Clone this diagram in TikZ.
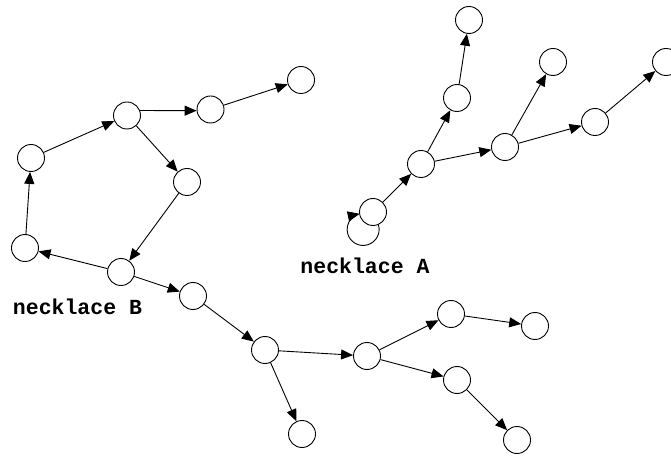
\documentclass[tikz,border=0pt]{standalone}
\usepackage{fontspec}
\newfontfamily\labelfont{Liberation Mono}
\usetikzlibrary{arrows.meta}
\begin{document}
\begin{tikzpicture}[x=1pt,y=1pt,
  vtx/.style={circle,draw,line width=0.9pt,minimum size=27pt,inner sep=0pt},
  arr/.style={line width=0.9pt,-{Triangle[length=12pt,width=10pt]}},
  lbl/.style={font=\labelfont\bfseries\fontsize{21.5}{24}\selectfont,anchor=base}]
\useasboundingbox (0,0) rectangle (671,455);
% necklace B
\node[vtx] (n1) at (127,339.5) {};
\node[vtx] (n2) at (210.5,345.5) {};
\node[vtx] (n3) at (301,375) {};
\node[vtx] (n4) at (31,297) {};
\node[vtx] (n5) at (187,273) {};
\node[vtx] (n6) at (25,207) {};
\node[vtx] (n7) at (121,183) {};
\node[vtx] (n8) at (193,159) {};
\node[vtx] (n9) at (265,105) {};
\node[vtx] (n10) at (367,99) {};
\node[vtx] (n11) at (451,141) {};
\node[vtx] (n12) at (535,129) {};
\node[vtx] (n13) at (457,75) {};
\node[vtx] (n14) at (517,15) {};
\node[vtx] (n15) at (302,21) {};
% necklace A
\node[vtx] (a1) at (469,435) {};
\node[vtx] (a2) at (457,357) {};
\node[vtx] (a3) at (553,393) {};
\node[vtx] (a4) at (666,393) {};
\node[vtx] (a5) at (595,333) {};
\node[vtx] (a6) at (505,308) {};
\node[vtx] (a7) at (421,291) {};
\node[vtx] (a8) at (373,243) {};
% labels
\node[lbl] (la) at (365,181) {necklace A};
\node[lbl] (lb) at (77.5,140) {necklace B};
% edges B
\draw[arr] (n6) -- (n4);
\draw[arr] (n4) -- (n1);
\draw[arr] (n1.21) -- (n2.185);
\draw[arr] (n2) -- (n3);
\draw[arr] (n1) -- (n5);
\draw[arr] (n5) -- (n7);
\draw[arr] (n7) -- (n6);
\draw[arr] (n7) -- (n8);
\draw[arr] (n8) -- (n9);
\draw[arr] (n9) -- (n10);
\draw[arr] (n9) -- (n15);
\draw[arr] (n10) -- (n11);
\draw[arr] (n11) -- (n12);
\draw[arr] (n10) -- (n13);
\draw[arr] (n13) -- (n14);
% edges A
\draw[arr] (a8) -- (a7);
\draw[arr] (a7) -- (a2);
\draw[arr] (a2) -- (a1);
\draw[arr] (a7) -- (a6);
\draw[arr] (a6) -- (a3);
\draw[arr] (a6) -- (a5);
\draw[arr] (a5) -- (a4);
\draw[arr] (a8.-67) arc[start angle=16.7, end angle=-257.7, radius=16pt];
\end{tikzpicture}
\end{document}
